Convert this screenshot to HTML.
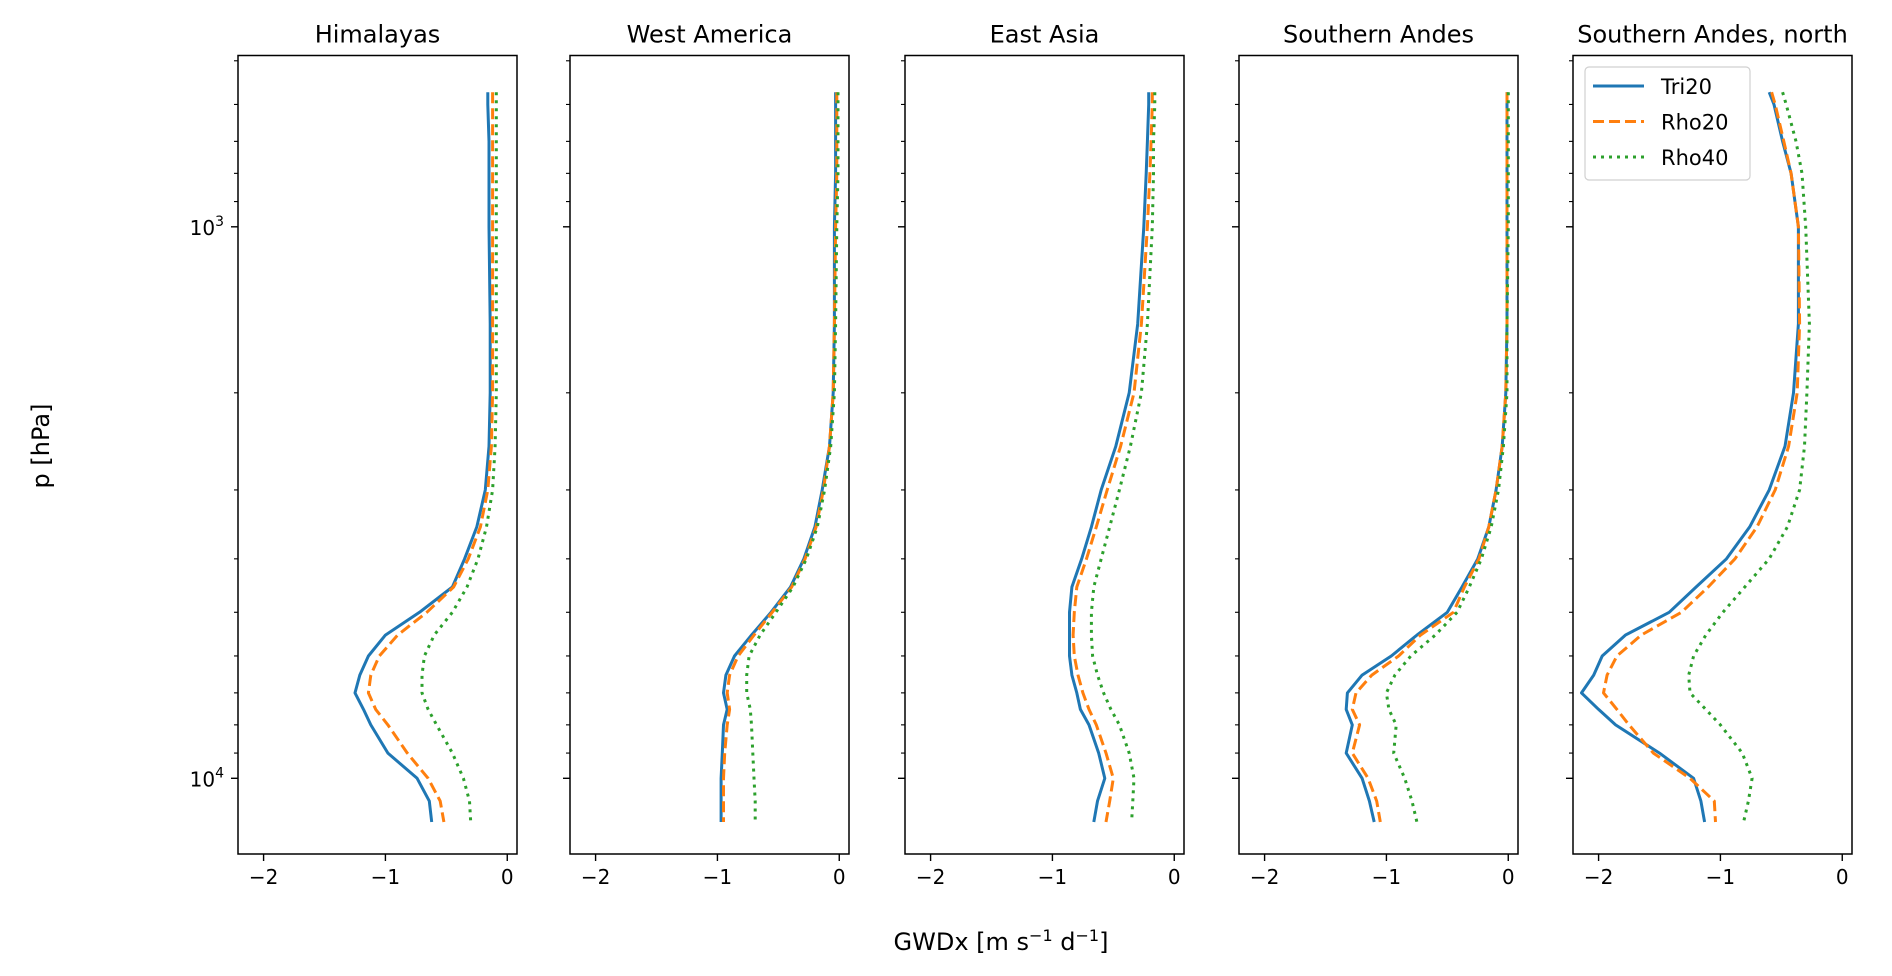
<!DOCTYPE html>
<html><head><meta charset="utf-8">
<style>
html,body{margin:0;padding:0;background:#fff;}
svg{display:block;font-family:"DejaVu Sans","Liberation Sans",sans-serif;}
</style></head>
<body>
<svg id="fig" width="1892" height="976" viewBox="0 0 1892 976" xmlns="http://www.w3.org/2000/svg">
<text x="42" y="446" font-size="24" text-anchor="middle" transform="rotate(-90 42 446)" dominant-baseline="middle">p [hPa]</text>
<text x="1001" y="950" font-size="24" text-anchor="middle">GWDx [m s<tspan font-size="16" dy="-9">−1</tspan><tspan dy="9"> d</tspan><tspan font-size="16" dy="-9">−1</tspan><tspan dy="9">]</tspan></text>
</svg>
<script>
const panelTitles = ["Himalayas","West America","East Asia","Southern Andes","Southern Andes, north"];
const pressures = [570,600,700,800,1000,1500,2000,2500,3000,3500,4000,4500,5000,5500,6000,6500,7000,7500,8000,9000,10000,11000,12000];
const seriesNames = ["Tri20","Rho20","Rho40"];
const tri20 = [
 [-0.16,-0.16,-0.15,-0.15,-0.15,-0.14,-0.14,-0.15,-0.18,-0.25,-0.35,-0.45,-0.72,-1.0,-1.14,-1.21,-1.25,-1.18,-1.12,-0.98,-0.74,-0.64,-0.62],
 [-0.03,-0.03,-0.03,-0.03,-0.04,-0.04,-0.05,-0.08,-0.14,-0.2,-0.29,-0.4,-0.56,-0.72,-0.86,-0.93,-0.95,-0.92,-0.95,-0.96,-0.97,-0.97,-0.97],
 [-0.21,-0.21,-0.22,-0.23,-0.25,-0.3,-0.37,-0.48,-0.6,-0.68,-0.76,-0.84,-0.86,-0.86,-0.86,-0.84,-0.8,-0.77,-0.7,-0.62,-0.57,-0.63,-0.66],
 [-0.01,-0.01,-0.01,-0.01,-0.01,-0.01,-0.02,-0.05,-0.1,-0.16,-0.25,-0.38,-0.5,-0.75,-0.96,-1.2,-1.32,-1.33,-1.28,-1.33,-1.2,-1.14,-1.1],
 [-0.6,-0.56,-0.49,-0.42,-0.36,-0.36,-0.4,-0.47,-0.6,-0.76,-0.95,-1.2,-1.42,-1.78,-1.97,-2.04,-2.14,-2.0,-1.86,-1.5,-1.22,-1.16,-1.13]
];
const rho20 = [
 [-0.12,-0.12,-0.12,-0.12,-0.12,-0.12,-0.12,-0.13,-0.16,-0.22,-0.32,-0.44,-0.66,-0.9,-1.05,-1.12,-1.14,-1.08,-0.98,-0.82,-0.65,-0.55,-0.52],
 [-0.02,-0.02,-0.02,-0.02,-0.03,-0.04,-0.05,-0.08,-0.13,-0.19,-0.28,-0.39,-0.55,-0.7,-0.83,-0.9,-0.92,-0.9,-0.92,-0.94,-0.95,-0.95,-0.95],
 [-0.18,-0.18,-0.19,-0.2,-0.22,-0.27,-0.33,-0.44,-0.55,-0.64,-0.72,-0.8,-0.82,-0.83,-0.82,-0.79,-0.75,-0.7,-0.64,-0.56,-0.5,-0.53,-0.56],
 [-0.01,-0.01,-0.01,-0.01,-0.01,-0.01,-0.02,-0.05,-0.1,-0.16,-0.24,-0.36,-0.45,-0.72,-0.9,-1.12,-1.25,-1.28,-1.22,-1.28,-1.15,-1.08,-1.05],
 [-0.58,-0.55,-0.48,-0.42,-0.36,-0.35,-0.37,-0.44,-0.55,-0.7,-0.88,-1.1,-1.32,-1.65,-1.85,-1.93,-1.96,-1.85,-1.75,-1.55,-1.25,-1.05,-1.04]
];
const rho40 = [
 [-0.09,-0.09,-0.09,-0.09,-0.09,-0.09,-0.09,-0.1,-0.12,-0.17,-0.24,-0.33,-0.45,-0.6,-0.68,-0.7,-0.7,-0.65,-0.58,-0.45,-0.36,-0.31,-0.3],
 [-0.01,-0.01,-0.01,-0.01,-0.02,-0.03,-0.04,-0.07,-0.12,-0.18,-0.27,-0.38,-0.52,-0.65,-0.74,-0.76,-0.76,-0.73,-0.72,-0.71,-0.7,-0.69,-0.69],
 [-0.16,-0.16,-0.17,-0.17,-0.18,-0.22,-0.27,-0.36,-0.45,-0.53,-0.6,-0.66,-0.68,-0.68,-0.67,-0.63,-0.58,-0.52,-0.45,-0.37,-0.33,-0.34,-0.35],
 [0.0,0.0,0.0,0.0,0.0,-0.01,-0.01,-0.04,-0.08,-0.14,-0.22,-0.32,-0.42,-0.6,-0.8,-0.93,-1.0,-0.98,-0.92,-0.94,-0.85,-0.79,-0.75],
 [-0.49,-0.46,-0.38,-0.33,-0.3,-0.27,-0.29,-0.31,-0.35,-0.45,-0.6,-0.8,-0.98,-1.12,-1.22,-1.26,-1.25,-1.12,-1.0,-0.82,-0.74,-0.77,-0.81]
];
const xTicks = [-2,-1,0];
const xTickLabels = ["−2","−1","0"];
const yMajor = [1000,10000];
const yMinor = [500,600,700,800,900,2000,3000,4000,5000,6000,7000,8000,9000];

const NS="http://www.w3.org/2000/svg";
const svg=document.getElementById('fig');
const panelLeft=[238,570,905,1239,1573], W=279, TOP=55.5, BOT=854;
const XMIN=-2.21, XMAX=0.08;
const Y3=226.8, DEC=551.5;
function yScale(p){return Y3+DEC*(Math.log10(p)-3);}
function mk(tag,attrs){const e=document.createElementNS(NS,tag);for(const k in attrs)e.setAttribute(k,attrs[k]);return e;}
const styles=[
 {c:"#1f77b4",d:""},
 {c:"#ff7f0e",d:"11,5"},
 {c:"#2ca02c",d:"3,5"}
];
const allSeries=[tri20,rho20,rho40];
panelTitles.forEach((t,i)=>{
  const L=panelLeft[i];
  const xs=v=>L+(v-XMIN)/(XMAX-XMIN)*W;
  const g=mk('g',{});
  
  
  svg.appendChild(g);
  const title=mk('text',{x:L+W/2,y:TOP-13,'font-size':24,'text-anchor':'middle'});
  
  
  title.textContent=t; g.appendChild(title);
  allSeries.forEach((s,k)=>{
    const pts=pressures.map((p,j)=>xs(s[i][j]).toFixed(1)+','+yScale(p).toFixed(1)).join(' ');
    const pl=mk('polyline',{points:pts,fill:'none',stroke:styles[k].c,'stroke-width':3,'stroke-linejoin':'round'});
    if(styles[k].d) pl.setAttribute('stroke-dasharray',styles[k].d);
    
    
    g.appendChild(pl);
  });
  const fr=mk('rect',{x:L,y:TOP,width:W,height:BOT-TOP,fill:'none',stroke:'#000','stroke-width':1.5});
  
  
  g.appendChild(fr);
  xTicks.forEach((v,k)=>{
    const x=xs(v);
    g.appendChild(mk('line',{x1:x,x2:x,y1:BOT,y2:BOT+7,stroke:'#000','stroke-width':1.4}));
    const tl=mk('text',{x:x,y:BOT+30,'font-size':20,'text-anchor':'middle'});
    
    
    tl.textContent=xTickLabels[k]; g.appendChild(tl);
  });
  yMajor.forEach(p=>{
    const y=yScale(p);
    g.appendChild(mk('line',{x1:L-7,x2:L,y1:y,y2:y,stroke:'#000','stroke-width':1.4}));
    if(i===0){
      const tl=mk('text',{x:L-14,y:y+8,'font-size':20,'text-anchor':'end'});
      
      
      tl.innerHTML='10<tspan font-size="14" dy="-9">'+Math.round(Math.log10(p))+'</tspan>';
      g.appendChild(tl);
    }
  });
  yMinor.forEach(p=>{
    const y=yScale(p); if(y<TOP) return;
    g.appendChild(mk('line',{x1:L-4,x2:L,y1:y,y2:y,stroke:'#000','stroke-width':1.1}));
  });
});
const lg=mk('g',{});


svg.appendChild(lg);
lg.appendChild(mk('rect',{x:1585,y:67,width:165,height:113,rx:4,fill:'#fff',stroke:'#d0d0d0','stroke-width':1.2}));
seriesNames.forEach((n,k)=>{
  const y=86+k*35.5;
  const e=mk('g',{});
  
  
  const ln=mk('line',{x1:1593,x2:1644,y1:y,y2:y,stroke:styles[k].c,'stroke-width':3});
  if(styles[k].d) ln.setAttribute('stroke-dasharray',styles[k].d);
  e.appendChild(ln);
  const tx=mk('text',{x:1661,y:y+8,'font-size':21});
  tx.textContent=n; e.appendChild(tx);
  lg.appendChild(e);
});
</script>
</body></html>
